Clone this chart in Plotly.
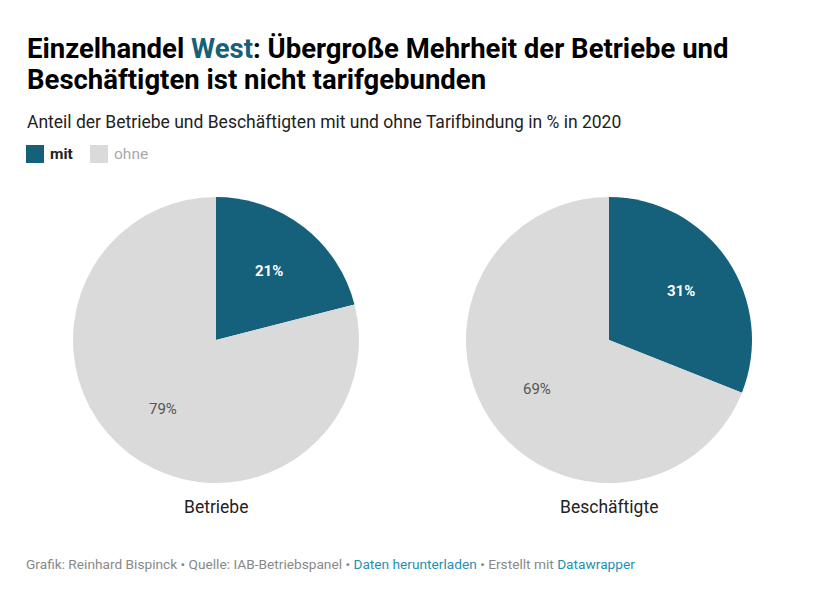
import math
import plotly.graph_objects as go

W, H = 819, 597
OFF = 8  # page offset of the plot in the browser window
categories = ["mit", "ohne"]
groups = ["Betriebe", "Beschäftigte"]
betriebe = [21, 79]
beschaeftigte = [31, 69]
colors = ["#15607a", "#dadada"]

def px(x):
    return (x - OFF) / W

def py(y):
    return 1 - (y - OFF) / H

fig = go.Figure()
centers = [216, 609]
cy, r = 340, 143
series = [betriebe, beschaeftigte]
annotations = []
for cx, vals, name in zip(centers, series, groups):
    fig.add_trace(go.Pie(
        labels=categories, values=vals, sort=False, direction="clockwise", rotation=0,
        marker=dict(colors=colors, line=dict(width=0)),
        textinfo="none", hoverinfo="label+percent", showlegend=False,
        domain=dict(x=[px(cx - r), px(cx + r)], y=[py(cy + r), py(cy - r)]),
    ))
    total = sum(vals)
    start = 0.0
    for i, v in enumerate(vals):
        mid = (start + v / 2) / total * 2 * math.pi
        start += v
        tx = cx + 0.61 * r * math.sin(mid)
        ty = cy - 0.61 * r * math.cos(mid)
        annotations.append(dict(
            x=px(tx), y=py(ty), xref="paper", yref="paper", showarrow=False,
            text=(f"<b>{v}%</b>" if i == 0 else f"{v}%"),
            font=dict(family="Roboto", size=15, color="#ffffff" if i == 0 else "#555555"),
            xanchor="center", yanchor="middle"))
    annotations.append(dict(
        x=px(cx), y=py(507), xref="paper", yref="paper", showarrow=False, text=name,
        font=dict(family="Roboto", size=17.5, color="#222222"), xanchor="center", yanchor="middle"))

annotations += [
    dict(x=px(25), y=py(48), xref="paper", yref="paper", showarrow=False, xanchor="left", yanchor="middle",
         text="<b>Einzelhandel <span style='color:#15607a'>West</span>: Übergroße Mehrheit der Betriebe und</b>",
         font=dict(family="Roboto", size=27.5, color="#000000")),
    dict(x=px(25), y=py(79), xref="paper", yref="paper", showarrow=False, xanchor="left", yanchor="middle",
         text="<b>Beschäftigten ist nicht tarifgebunden</b>",
         font=dict(family="Roboto", size=27.5, color="#000000")),
    dict(x=px(25), y=py(122), xref="paper", yref="paper", showarrow=False, xanchor="left", yanchor="middle",
         text="Anteil der Betriebe und Beschäftigten mit und ohne Tarifbindung in % in 2020",
         font=dict(family="Roboto", size=17.5, color="#222222")),
    dict(x=px(48), y=py(154), xref="paper", yref="paper", showarrow=False, xanchor="left", yanchor="middle",
         text="<b>mit</b>", font=dict(family="Roboto", size=15.5, color="#222222")),
    dict(x=px(112), y=py(154), xref="paper", yref="paper", showarrow=False, xanchor="left", yanchor="middle",
         text="ohne", font=dict(family="Roboto", size=15.5, color="#aaaaaa")),
    dict(x=px(24), y=py(564), xref="paper", yref="paper", showarrow=False, xanchor="left", yanchor="middle",
         text="Grafik: Reinhard Bispinck • Quelle: IAB-Betriebspanel • <span style='color:#1d8fb3'>Daten herunterladen</span> • Erstellt mit <span style='color:#1d8fb3'>Datawrapper</span>",
         font=dict(family="Roboto", size=13.7, color="#888888")),
]

shapes = [
    dict(type="rect", xref="paper", yref="paper", x0=px(26), x1=px(44), y0=py(163), y1=py(145),
         fillcolor=colors[0], line=dict(width=0)),
    dict(type="rect", xref="paper", yref="paper", x0=px(90), x1=px(108), y0=py(163), y1=py(145),
         fillcolor=colors[1], line=dict(width=0)),
]

fig.update_layout(width=W, height=H, margin=dict(l=0, r=0, t=0, b=0),
                  paper_bgcolor="#ffffff", plot_bgcolor="#ffffff",
                  annotations=annotations, shapes=shapes, font=dict(family="Roboto"))
fig.write_html("out.html")
